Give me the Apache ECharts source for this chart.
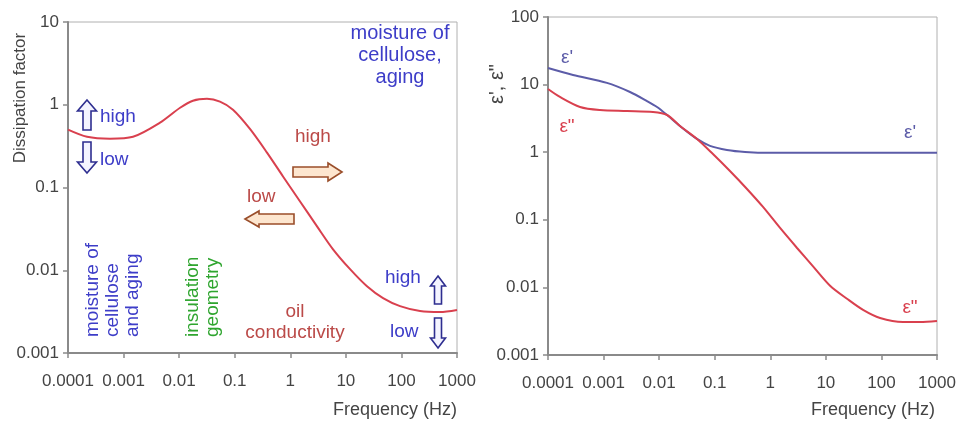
<!DOCTYPE html>
<html>
<head>
<meta charset="utf-8">
<script src="https://cdn.jsdelivr.net/npm/echarts@6/dist/echarts.min.js"></script>
<style>
html,body{margin:0;padding:0;background:#fff;}
#main{width:960px;height:421px;}
</style>
</head>
<body>
<div id="main"></div>
<script>
// ---- data ----
var xTickLabels = ['0.0001','0.001','0.01','0.1','1','10','100','1000'];
var yTickLabelsL = ['0.001','0.01','0.1','1','10'];
var yTickLabelsR = ['0.001','0.01','0.1','1','10','100'];

// left panel: dissipation factor vs frequency
var dfFreq = [0.0001,0.00022,0.00057,0.00148,0.00453,0.0104,0.0177,0.0317,0.0543,0.0931,0.188,0.381,0.74,1.50,3.03,5.88,11.9,24.0,46.7,94.4,216,494,1000];
var dfVal  = [0.50,0.41,0.389,0.41,0.607,0.92,1.12,1.18,1.09,0.87,0.51,0.264,0.136,0.0678,0.0339,0.0179,0.0103,0.0064,0.0046,0.00368,0.00321,0.00312,0.0033];

// right panel: permittivity components
var epsFreq1 = [0.0001,0.000282,0.00115,0.00299,0.00605,0.00916,0.0139,0.0237,0.048,0.0822,0.166,0.351,0.99,10,100,1000];
var eps1     = [17.6,13.9,10.6,7.78,5.71,4.67,3.55,2.44,1.57,1.24,1.08,1.01,0.98,0.98,0.98,0.98];
var epsFreq2 = [0.0001,0.000164,0.000377,0.000863,0.00264,0.00776,0.0139,0.0237,0.048,0.093,0.188,0.381,0.74,1.50,3.03,5.88,11.9,24.0,46.7,94.4,245,494,1000];
var eps2     = [8.6,6.56,4.67,4.21,4.07,3.93,3.55,2.44,1.57,0.94,0.527,0.286,0.155,0.0757,0.0383,0.0205,0.0106,0.0068,0.00465,0.00353,0.00308,0.00308,0.00318];

// ---- styling ----
var FONT = 'Liberation Sans, Arial, sans-serif';
var RED = '#d9404e', BLUE = '#5c5ca8';
var TXT_BLUE = '#3d3dc8', TXT_GREEN = '#2fa52f', TXT_BROWN = '#bb4a48';
var AX = '#8a8a8a';

function lbl(arr, off){ return function(v){ return arr[Math.round(Math.log10(v)) + off]; }; }

function xAxisCfg(idx){
  return {
    type:'log', logBase:10, gridIndex:idx, min:0.0001, max:1000, interval:1,
    axisLine:{show:true, lineStyle:{color:AX, width:2}},
    axisTick:{show:true, inside:false, length:5, lineStyle:{color:AX, width:1.5}},
    axisLabel:{formatter:lbl(xTickLabels,4), color:'#444', fontSize:17, fontFamily:FONT, margin:20},
    splitLine:{show:false}, minorTick:{show:false}
  };
}
function yAxisCfg(idx, min, max, labels, off){
  return {
    type:'log', logBase:10, gridIndex:idx, min:min, max:max, interval:1,
    axisLine:{show:true, lineStyle:{color:AX, width:2}},
    axisTick:{show:true, inside:false, length:5, lineStyle:{color:AX, width:1.5}},
    axisLabel:{formatter:lbl(labels,off), color:'#444', fontSize:17, fontFamily:FONT, margin:9},
    splitLine:{show:false}
  };
}

function upArrow(cx, top, h, hw, sw, hh){
  return [[cx,top],[cx+hw/2,top+hh],[cx+sw/2,top+hh],[cx+sw/2,top+h],[cx-sw/2,top+h],[cx-sw/2,top+hh],[cx-hw/2,top+hh]];
}
function downArrow(cx, top, h, hw, sw, hh){
  var b = top+h;
  return [[cx,b],[cx+hw/2,b-hh],[cx+sw/2,b-hh],[cx+sw/2,top],[cx-sw/2,top],[cx-sw/2,b-hh],[cx-hw/2,b-hh]];
}
function rightArrow(l, r, cy, hh, sh, hl){
  return [[r,cy],[r-hl,cy-hh/2],[r-hl,cy-sh/2],[l,cy-sh/2],[l,cy+sh/2],[r-hl,cy+sh/2],[r-hl,cy+hh/2]];
}
function leftArrow(l, r, cy, hh, sh, hl){
  return [[l,cy],[l+hl,cy-hh/2],[l+hl,cy-sh/2],[r,cy-sh/2],[r,cy+sh/2],[l+hl,cy+sh/2],[l+hl,cy+hh/2]];
}
function txt(x, y, s, color, size, align, vAlign, extra){
  var o = {type:'text', x:x, y:y, silent:true,
    style:{text:s, fill:color, font: size+'px '+FONT, align:align||'left', verticalAlign:vAlign||'middle'}};
  if (extra) for (var k in extra) { if (k==='lineHeight') o.style.lineHeight = extra[k]; else o[k]=extra[k]; }
  return o;
}
var vArrowStyle = {fill:'#f4f4ff', stroke:'#2e2e90', lineWidth:1.6};
var hArrowStyle = {fill:'#fde6cf', stroke:'#9a4e2a', lineWidth:1.6};

function pairs(xs, ys){ return xs.map(function(f,i){ return [f, ys[i]]; }); }

var chart = echarts.init(document.getElementById('main'), null, {renderer:'canvas'});
chart.setOption({
  backgroundColor:'#fff',
  animation:false,
  grid:[
    {left:68, right:503, top:22, bottom:68, show:true, borderColor:'#b0b0b0', borderWidth:1},
    {left:548, right:23, top:17, bottom:66, show:true, borderColor:'#b0b0b0', borderWidth:1}
  ],
  xAxis:[xAxisCfg(0), xAxisCfg(1)],
  yAxis:[yAxisCfg(0, 0.001, 10, yTickLabelsL, 3), yAxisCfg(1, 0.001, 100, yTickLabelsR, 3)],
  series:[
    {type:'line', xAxisIndex:0, yAxisIndex:0, data:pairs(dfFreq, dfVal),
     smooth:0.3, showSymbol:false, lineStyle:{color:RED, width:2}},
    {type:'line', xAxisIndex:1, yAxisIndex:1, data:pairs(epsFreq1, eps1),
     smooth:0.3, showSymbol:false, lineStyle:{color:BLUE, width:2}},
    {type:'line', xAxisIndex:1, yAxisIndex:1, data:pairs(epsFreq2, eps2),
     smooth:0.3, showSymbol:false, lineStyle:{color:RED, width:2}}
  ],
  graphic:[
    // axis titles
    txt(20, 98, 'Dissipation factor', '#444', 17, 'center', 'middle', {rotation:Math.PI/2}),
    txt(457, 410, 'Frequency (Hz)', '#444', 18, 'right', 'middle'),
    txt(497, 84, "ε', ε\"", '#444', 20, 'center', 'middle', {rotation:Math.PI/2}),
    txt(935, 410, 'Frequency (Hz)', '#444', 18, 'right', 'middle'),
    // left panel annotations
    txt(400, 22, 'moisture of\ncellulose,\naging', TXT_BLUE, 20, 'center', 'top', {lineHeight:22}),
    txt(100, 117, 'high', TXT_BLUE, 19),
    txt(100, 160, 'low', TXT_BLUE, 19),
    {type:'polygon', silent:true, shape:{points:upArrow(87,100,30,19,8,11)}, style:vArrowStyle},
    {type:'polygon', silent:true, shape:{points:downArrow(87,142,31,19,8,11)}, style:vArrowStyle},
    txt(295, 137, 'high', TXT_BROWN, 19),
    {type:'polygon', silent:true, shape:{points:rightArrow(293,342,172,18,10,14)}, style:hArrowStyle},
    txt(247, 197, 'low', TXT_BROWN, 19),
    {type:'polygon', silent:true, shape:{points:leftArrow(245,294,219,16,10,14)}, style:hArrowStyle},
    txt(83, 337, 'moisture of\ncellulose\nand aging', TXT_BLUE, 19, 'left', 'top', {rotation:Math.PI/2, lineHeight:20}),
    txt(183, 337, 'insulation\ngeometry', TXT_GREEN, 19, 'left', 'top', {rotation:Math.PI/2, lineHeight:20}),
    txt(295, 301, 'oil\nconductivity', TXT_BROWN, 19, 'center', 'top', {lineHeight:21}),
    txt(385, 278, 'high', TXT_BLUE, 19),
    txt(390, 332, 'low', TXT_BLUE, 19),
    {type:'polygon', silent:true, shape:{points:upArrow(438,276,28,15,7,10)}, style:vArrowStyle},
    {type:'polygon', silent:true, shape:{points:downArrow(438,318,30,15,7,10)}, style:vArrowStyle},
    // right panel curve labels
    txt(567, 58, "ε'", BLUE, 19, 'center', 'middle'),
    txt(567, 127, 'ε"', RED, 19, 'center', 'middle'),
    txt(910, 133, "ε'", BLUE, 19, 'center', 'middle'),
    txt(910, 308, 'ε"', RED, 19, 'center', 'middle')
  ]
});
</script>
</body>
</html>
